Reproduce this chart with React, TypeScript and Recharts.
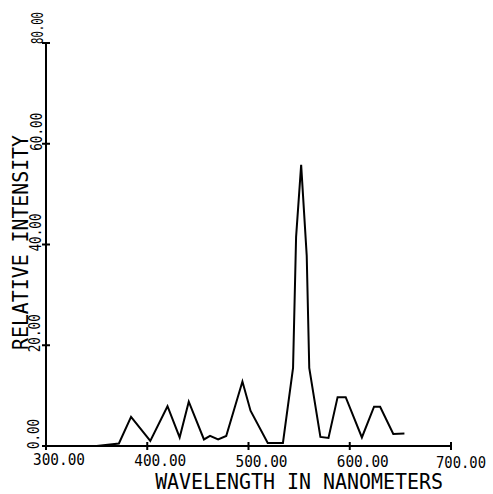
import React from "react";
import { LineChart, Line, XAxis, YAxis, Label } from "recharts";

// wavelength (nm) and relative intensity
const wavelengths = [
  350, 372, 384, 403, 420, 432, 441, 456, 462, 470, 478, 494, 502, 519, 534,
  544, 547, 552, 557.5, 560, 571, 579, 588, 596, 612, 624, 630, 643, 654,
];
const intensities = [
  0, 0.5, 5.8, 1, 7.9, 1.7, 8.8, 1.3, 2, 1.3, 2, 12.8, 7, 0.6, 0.6,
  15.5, 41.5, 55.8, 37.8, 15.5, 1.8, 1.6, 9.7, 9.7, 1.7, 7.8, 7.8, 2.4, 2.5,
];
const xTicks = [300, 400, 500, 600, 700];
const yTicks = [0, 20, 40, 60, 80];
const xTitle = "WAVELENGTH IN NANOMETERS";
const yTitle = "RELATIVE INTENSITY";

const data = wavelengths.map((w, i) => ({ w, v: intensities[i] }));

const FONT = "'DejaVu Sans Mono', monospace";

const XTick = (props: any) => {
  const { x, y, payload, index } = props;
  return (
    <g>
      <line x1={x} x2={x} y1={y - 4} y2={y + 4} stroke="#000" strokeWidth={2} />
      <text
        x={x + 13 - (index === 4 ? 3 : 0)}
        y={y + 19 + index * 0.8}
        textAnchor="middle"
        fontFamily={FONT}
        fontSize={16}
        textLength={index === 4 ? 50 : 52}
        lengthAdjust="spacingAndGlyphs"
        fill="#000"
      >
        {payload.value.toFixed(2)}
      </text>
    </g>
  );
};

const YTick = (props: any) => {
  const { x, y, payload, index } = props;
  const tx = x - 7 + index;
  const ty = y - 12 - (index === 4 ? 3 : 0);
  return (
    <g>
      <line x1={x - 4} x2={x + 4} y1={y} y2={y} stroke="#000" strokeWidth={2} />
      <text
        x={tx}
        y={ty}
        transform={`rotate(-90, ${tx}, ${ty})`}
        textAnchor="middle"
        fontFamily={FONT}
        fontSize={15}
        textLength={index === 0 ? 30 : index === 4 ? 32 : 38}
        lengthAdjust="spacingAndGlyphs"
        fill="#000"
      >
        {payload.value.toFixed(2)}
      </text>
    </g>
  );
};

export default function App() {
  return (
    <div style={{ position: "absolute", left: 0, top: 0, background: "#fff" }}>
      <LineChart
        width={493}
        height={494}
        data={data}
        margin={{ top: 43, right: 42, left: 0, bottom: 0 }}
      >
        <XAxis
          dataKey="w"
          type="number"
          domain={[300, 700]}
          ticks={xTicks}
          height={48}
          tickSize={0}
          tickMargin={0}
          tickLine={false}
          axisLine={{ stroke: "#000", strokeWidth: 2 }}
          tick={<XTick />}
          interval={0}
        >
          <Label
            content={(p: any) => {
              const vb = p.viewBox;
              return (
                <text
                  x={vb.x + vb.width * 0.625}
                  y={vb.y + 43}
                  textAnchor="middle"
                  fontFamily={FONT}
                  fontSize={21}
                  textLength={288}
                  lengthAdjust="spacingAndGlyphs"
                  fill="#000"
                >
                  {xTitle}
                </text>
              );
            }}
          />
        </XAxis>
        <YAxis
          type="number"
          domain={[0, 80]}
          ticks={yTicks}
          width={46}
          tickSize={0}
          tickMargin={0}
          tickLine={false}
          axisLine={{ stroke: "#000", strokeWidth: 2 }}
          tick={<YTick />}
          interval={0}
        >
          <Label
            content={(p: any) => {
              const vb = p.viewBox;
              const cx = 28;
              const cy = vb.y + vb.height * 0.495;
              return (
                <text
                  x={cx}
                  y={cy}
                  transform={`rotate(-90, ${cx}, ${cy})`}
                  textAnchor="middle"
                  fontFamily={FONT}
                  fontSize={21}
                  textLength={215}
                  lengthAdjust="spacingAndGlyphs"
                  fill="#000"
                >
                  {yTitle}
                </text>
              );
            }}
          />
        </YAxis>
        <Line
          type="linear"
          dataKey="v"
          stroke="#000"
          strokeWidth={2}
          dot={false}
          isAnimationActive={false}
        />
      </LineChart>
    </div>
  );
}
